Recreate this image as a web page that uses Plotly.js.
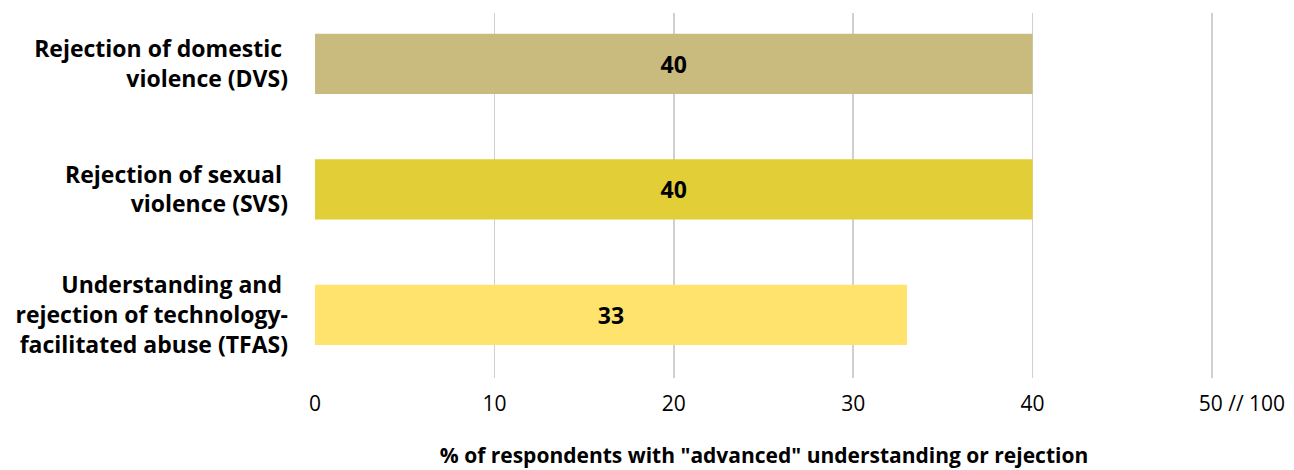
<!DOCTYPE html>
<html>
<head>
<meta charset="utf-8">
<script src="https://cdn.plot.ly/plotly-3.0.1.min.js"></script>
<style>
html,body{margin:0;padding:0;background:#fff;}
#chart{width:1294px;height:470px;}
</style>
</head>
<body>
<div id="chart"></div>
<script>
const categories = [
  "Rejection of domestic\u00a0<br>violence (DVS)",
  "Rejection of sexual\u00a0<br>violence (SVS)",
  "Understanding and\u00a0<br>rejection of technology-<br>facilitated abuse (TFAS)"
];
const values = [40, 40, 33];
const barColors = ["#C9BB7D", "#E2CE36", "#FFE36D"];
const tickValues = [0, 10, 20, 30, 40, 50];
const tickLabels = ["0", "10", "20", "30", "40", "50 // 100"];
const xTitle = '% of respondents with "advanced" understanding or rejection';

const FONT = "Open Sans, Noto Sans, sans-serif";

// the last tick label is drawn with "50" sitting on its gridline
const shownTickLabels = tickLabels.map((t, i) =>
  i === tickLabels.length - 1 ? "\u00a0".repeat(11) + t : t);

const trace = {
  type: "bar",
  orientation: "h",
  y: categories,
  x: values,
  width: values.map(() => 0.48),
  marker: {color: barColors},
  text: values.map(String),
  textposition: "inside",
  insidetextanchor: "middle",
  textangle: 0,
  textfont: {family: FONT, size: 23, color: "#000", weight: 700},
  hoverinfo: "skip",
  cliponaxis: false
};

const layout = {
  width: 1294,
  height: 470,
  margin: {l: 315, r: 81, t: 13, b: 92},
  paper_bgcolor: "#fff",
  plot_bgcolor: "#fff",
  showlegend: false,
  font: {family: FONT, color: "#000"},
  xaxis: {
    range: [0, 50.06],
    tickvals: tickValues,
    ticktext: shownTickLabels,
    showgrid: true,
    gridcolor: "#D0D0D0",
    gridwidth: 1.5,
    zeroline: false,
    showline: false,
    ticks: "",
    ticklabelstandoff: 11,
    tickfont: {family: FONT, size: 21, color: "#000"},
    title: {text: xTitle, font: {family: FONT, size: 21, color: "#000", weight: 700}, standoff: 32},
    fixedrange: true
  },
  yaxis: {
    type: "category",
    range: [2.502, -0.406],
    showgrid: false,
    zeroline: false,
    showline: false,
    ticks: "",
    ticklabelstandoff: 26,
    tickfont: {family: FONT, size: 23, color: "#000", weight: 700},
    fixedrange: true
  }
};

Plotly.newPlot("chart", [trace], layout, {displayModeBar: false, staticPlot: true});
</script>
</body>
</html>
